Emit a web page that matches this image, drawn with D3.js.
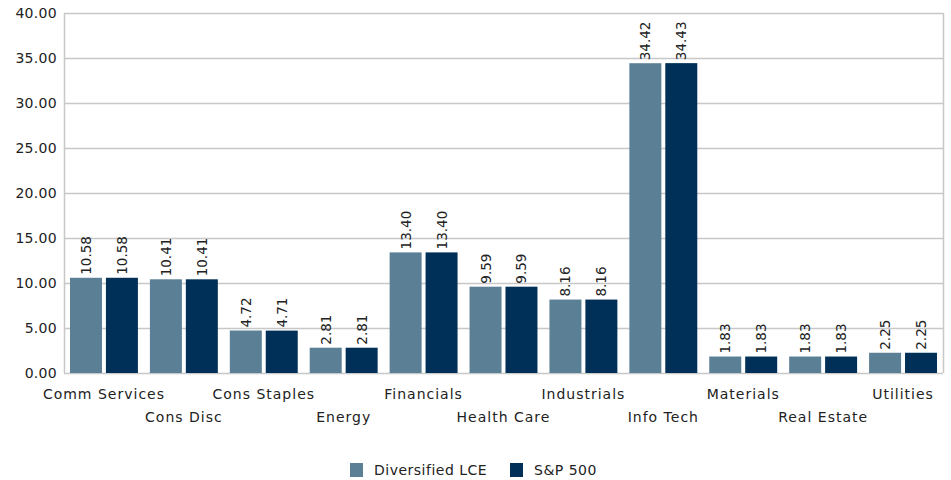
<!DOCTYPE html>
<html><head><meta charset="utf-8">
<script src="https://cdn.jsdelivr.net/npm/d3@7"></script>
<style>body{margin:0;background:#fff}svg{display:block;font-family:"DejaVu Sans",sans-serif}</style>
</head><body><svg id="c" width="951" height="480"></svg>
<script>
const categories = ["Comm Services","Cons Disc","Cons Staples","Energy","Financials","Health Care","Industrials","Info Tech","Materials","Real Estate","Utilities"];
const seriesNames = ["Diversified LCE","S&P 500"];
const lceValues = [10.58,10.41,4.72,2.81,13.40,9.59,8.16,34.42,1.83,1.83,2.25];
const spValues = [10.58,10.41,4.71,2.81,13.40,9.59,8.16,34.43,1.83,1.83,2.25];
const yTicks = [0,5,10,15,20,25,30,35,40];
const colors = ["#5B7F95","#003057"];

const svg = d3.select("#c");
const L=64, R=943, T=13, B=373;
const x = d3.scaleBand().domain(categories).range([L,R]).paddingInner(0.15).paddingOuter(0.075);
const x1 = d3.scaleBand().domain(seriesNames).range([0,x.bandwidth()]).paddingInner(0.11);
const y = d3.scaleLinear().domain([0,40]).range([B,T]);

// gridlines
svg.append("g").selectAll("line").data(yTicks).join("line")
  .attr("x1",L).attr("x2",R).attr("y1",d=>y(d)+0.5).attr("y2",d=>y(d)+0.5)
  .attr("stroke","#c8c8c8").attr("stroke-width",1.5);
svg.append("line").attr("x1",L+0.5).attr("x2",L+0.5).attr("y1",T).attr("y2",B).attr("stroke","#c8c8c8").attr("stroke-width",1.5);
svg.append("line").attr("x1",R+0.5).attr("x2",R+0.5).attr("y1",T).attr("y2",B).attr("stroke","#c8c8c8").attr("stroke-width",1.5);

// y axis
const yAxis = svg.append("g").attr("transform",`translate(${L},0)`)
  .call(d3.axisLeft(y).tickValues(yTicks).tickFormat(d3.format(".2f")).tickSize(0).tickPadding(7));
yAxis.select(".domain").remove();
yAxis.selectAll("text").attr("font-size",14).attr("fill","#222").attr("font-family","DejaVu Sans, sans-serif").attr("letter-spacing",0.3);

const data = categories.map((c,i)=>({cat:c, vals:[lceValues[i],spValues[i]]}));
const groups = svg.append("g").selectAll("g").data(data).join("g")
  .attr("transform",d=>`translate(${x(d.cat)},0)`);
groups.selectAll("rect").data(d=>d.vals.map((v,j)=>({v,s:seriesNames[j],j}))).join("rect")
  .attr("x",d=>x1(d.s)).attr("width",x1.bandwidth())
  .attr("y",d=>y(d.v)).attr("height",d=>B-y(d.v)).attr("fill",d=>colors[d.j]);
groups.selectAll("text").data(d=>d.vals.map((v,j)=>({v,s:seriesNames[j],j}))).join("text")
  .attr("transform",d=>`translate(${x1(d.s)+x1.bandwidth()/2+5},${y(d.v)-3}) rotate(-90)`)
  .attr("font-size",13.5).attr("fill","#222").text(d=>d3.format(".2f")(d.v));

// x labels staggered
svg.append("g").selectAll("text").data(categories).join("text")
  .attr("x",d=>x(d)+x.bandwidth()/2).attr("y",(d,i)=>i%2===0?399:422)
  .attr("text-anchor","middle").attr("font-size",14).attr("letter-spacing",1).attr("fill","#222").text(d=>d);

// legend
const lg = svg.append("g");
const lx = [350,510];
seriesNames.forEach((s,i)=>{
  lg.append("rect").attr("x",lx[i]).attr("y",463).attr("width",13).attr("height",14).attr("fill",colors[i]);
  lg.append("text").attr("x",lx[i]+24).attr("y",475).attr("font-size",14).attr("letter-spacing",0.5).attr("fill","#222").text(s);
});
</script></body></html>
